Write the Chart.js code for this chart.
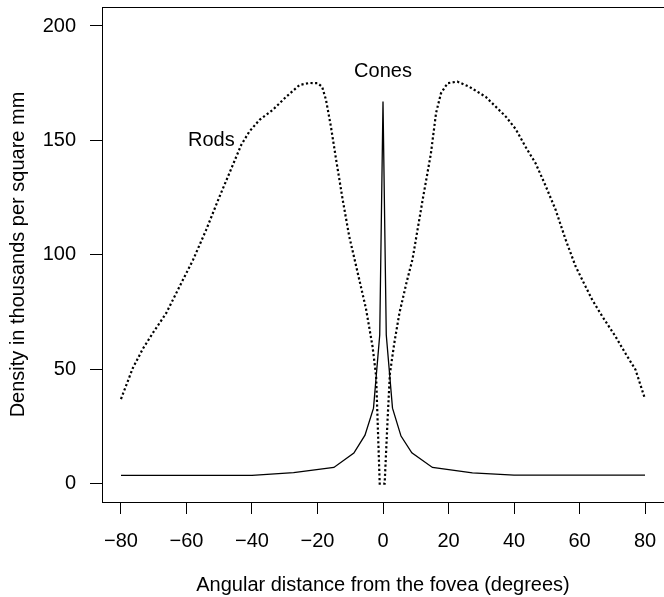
<!DOCTYPE html>
<html>
<head>
<meta charset="utf-8">
<script src="https://cdn.jsdelivr.net/npm/chart.js@4/dist/chart.umd.min.js"></script>
<style>
  body { margin: 0; background: #fff; }
  #wrap { width: 664px; height: 597px; }
</style>
</head>
<body>
<div id="wrap"><canvas id="chart" width="664" height="597"></canvas></div>
<script>
const rodAngles = [-80, -76.4, -73.3, -70.3, -66.2, -62.1, -58, -54, -49.9, -46.9,
  -44.8, -43.3, -40.8, -37.7, -33.7, -29.6, -25.5, -22.5, -20, -18.6,
  -17.4, -15.9, -14.3, -12.3, -10.3, -7.7, -5.2, -3.2, -2.1, -1,
  0.5, 1.4, 2.1, 3.4, 5, 7.2, 9, 12.1, 14.6, 16.2,
  17.7, 19.7, 22.7, 26.3, 31.4, 37.5, 40.5, 43.6, 46.6, 49.7,
  52.7, 55.8, 58.8, 61.9, 63.9, 67, 71, 74, 77.1, 80];
const rodDensity = [37, 50.5, 59, 65.8, 74.5, 86.2, 97.8, 110.9, 125.5, 135.7,
  142.9, 148, 153.9, 159, 163.3, 169, 174.2, 175.1, 175, 173.5,
  167.7, 156, 141.5, 124, 108, 92, 76.5, 60, 47, 0,
  0, 28, 48, 61, 74.5, 88, 98, 124, 144, 162,
  170.6, 175, 175.7, 173.5, 169, 160.4, 155, 147, 140, 130,
  119.7, 106.5, 95, 86, 80.3, 73, 64.3, 57, 49.8, 37];

const coneAngles = [-80, -40, -27.3, -15, -8.9, -5.5, -2.9, -1, 0, 1, 2.9, 5.5, 8.8, 15.1, 27.3, 40, 80];
const coneDensity = [3.6, 3.6, 4.8, 7.1, 13.4, 21.2, 33, 65, 167, 65, 33, 20.8, 13.5, 7.1, 4.7, 3.7, 3.7];

const xTicks = [-80, -60, -40, -20, 0, 20, 40, 60, 80];
const yTicks = [0, 50, 100, 150, 200];

const FONT = "'Liberation Sans', Arial, Helvetica, sans-serif";
const FONT_SIZE = 20;

function toPoints(xs, ys) {
  return xs.map((x, i) => ({ x: x, y: ys[i] }));
}

function minusLabel(v) {
  return v < 0 ? "\u2212" + Math.abs(v) : String(v);
}

// text labels and the box around the plot region
const decorations = {
  id: "decorations",
  afterDraw(chart) {
    const { ctx, chartArea, scales } = chart;
    ctx.save();
    ctx.strokeStyle = "#000";
    ctx.lineWidth = 1;
    ctx.strokeRect(chartArea.left + 0.5, chartArea.top + 0.5, chartArea.right - chartArea.left + 10, chartArea.bottom - chartArea.top);
    ctx.fillStyle = "#000";
    ctx.font = FONT_SIZE + "px " + FONT;
    ctx.textAlign = "center";
    ctx.textBaseline = "middle";
    ctx.fillText("Cones", scales.x.getPixelForValue(0), scales.y.getPixelForValue(180.3));
    ctx.fillText("Rods", scales.x.getPixelForValue(-52.4), scales.y.getPixelForValue(150));
    ctx.restore();
  }
};

new Chart(document.getElementById("chart").getContext("2d"), {
  type: "line",
  data: {
    datasets: [
      {
        label: "Rods",
        data: toPoints(rodAngles, rodDensity),
        borderColor: "#000",
        borderWidth: 2.2,
        borderDash: [2.2, 2.4],
        pointRadius: 0,
        tension: 0,
        fill: false,
      },
      {
        label: "Cones",
        data: toPoints(coneAngles, coneDensity),
        borderColor: "#000",
        borderWidth: 1.3,
        pointRadius: 0,
        tension: 0,
        fill: false,
      },
    ],
  },
  options: {
    responsive: false,
    animation: false,
    layout: { padding: { top: 7, right: 0, bottom: 0, left: 0 } },
    plugins: { legend: { display: false }, tooltip: { enabled: false } },
    scales: {
      x: {
        type: "linear",
        min: -85.8,
        max: 85.8,
        afterFit(scale) {
          scale.height = 95;
          scale.paddingLeft = 0;
          scale.paddingRight = 0;
        },
        afterBuildTicks(scale) { scale.ticks = xTicks.map(v => ({ value: v })); },
        border: { display: false },
        grid: { drawOnChartArea: false, drawTicks: true, tickLength: 12, color: "#000", lineWidth: 1 },
        ticks: {
          color: "#000",
          font: { family: FONT, size: FONT_SIZE },
          padding: 15,
          maxRotation: 0,
          callback: minusLabel,
        },
        title: {
          display: true,
          text: "Angular distance from the fovea (degrees)",
          color: "#000",
          font: { family: FONT, size: FONT_SIZE, lineHeight: 1.2 },
          padding: { top: 4, bottom: 0 },
        },
      },
      y: {
        type: "linear",
        min: -8,
        max: 208.3,
        afterFit(scale) {
          scale.width = 102;
          scale.paddingTop = 0;
          scale.paddingBottom = 0;
        },
        afterBuildTicks(scale) { scale.ticks = yTicks.map(v => ({ value: v })); },
        border: { display: false },
        grid: { drawOnChartArea: false, drawTicks: true, tickLength: 12, color: "#000", lineWidth: 1 },
        ticks: {
          color: "#000",
          font: { family: FONT, size: FONT_SIZE },
          padding: 14,
          callback: minusLabel,
        },
        title: {
          display: true,
          text: "Density in thousands per square mm",
          color: "#000",
          font: { family: FONT, size: FONT_SIZE, lineHeight: 1.2 },
          padding: { top: 6, bottom: 0 },
        },
      },
    },
  },
  plugins: [decorations],
});
</script>
</body>
</html>
